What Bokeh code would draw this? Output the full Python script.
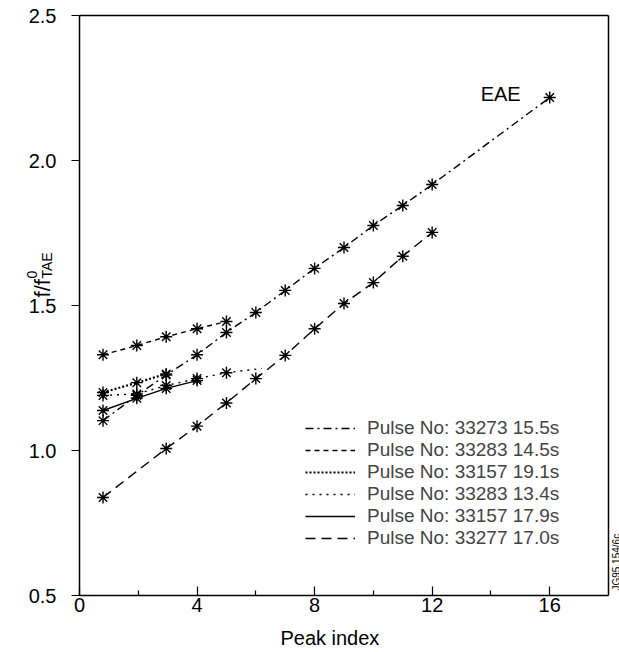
from math import pi
from bokeh.plotting import figure
from bokeh.models import (FixedTicker, PrintfTickFormatter, Label, Legend,
                          LegendItem, Range1d, LinearAxis)
from bokeh.embed import file_html
from bokeh.resources import INLINE

# ---- data ----
x_33273_155 = [0.8, 1.95, 2.95, 4, 5, 6, 7, 8, 9, 10, 11, 12, 16]
y_33273_155 = [1.103, 1.19, 1.26, 1.33, 1.407, 1.476, 1.552, 1.628, 1.70,
               1.776, 1.845, 1.917, 2.217]
x_33283_145 = [0.8, 1.95, 2.95, 4, 5]
y_33283_145 = [1.33, 1.362, 1.392, 1.42, 1.445]
x_33157_191 = [0.8, 1.95, 2.95]
y_33157_191 = [1.20, 1.234, 1.264]
x_33283_134 = [0.8, 1.95, 2.95, 4, 5, 6.2]
y_33283_134 = [1.19, 1.195, 1.224, 1.248, 1.268, 1.283]
x_33157_179 = [0.8, 1.95, 2.95, 4]
y_33157_179 = [1.138, 1.18, 1.214, 1.241]
x_33277_170 = [0.8, 2.95, 4, 5, 6, 7, 8, 9, 10, 11, 12]
y_33277_170 = [0.838, 1.007, 1.084, 1.164, 1.248, 1.328, 1.42, 1.507, 1.579,
               1.67, 1.752]

labels = ["Pulse No: 33273 15.5s", "Pulse No: 33283 14.5s",
          "Pulse No: 33157 19.1s", "Pulse No: 33283 13.4s",
          "Pulse No: 33157 17.9s", "Pulse No: 33277 17.0s"]
x_ticks = [0, 4, 8, 12, 16]
x_minor = [2, 6, 10, 14]
y_ticks = [0.5, 1.0, 1.5, 2.0, 2.5]
x_lim = (0, 18)
y_lim = (0.5, 2.5)

FONT = "Liberation Sans"

# layout in pixels: data box spans x 79..608, y 15..595 of a 619x652 canvas
W, H = 619, 652
L, R, T, B = 79, 608, 15, 595
sx = (R - L) / (x_lim[1] - x_lim[0])
sy = (B - T) / (y_lim[1] - y_lim[0])
xr = Range1d(x_lim[0] - L / sx, x_lim[1] + (W - R) / sx)
yr = Range1d(y_lim[0] - (H - B) / sy, y_lim[1] + T / sy)

p = figure(width=W, height=H, output_backend="svg", toolbar_location=None,
           x_range=xr, y_range=yr, x_axis_type=None, y_axis_type=None,
           min_border=0)
p.outline_line_color = None


def style_axis(ax):
    ax.axis_line_width = 1.5
    ax.axis_line_color = "black"
    ax.major_tick_line_color = "black"
    ax.minor_tick_line_color = "black"
    ax.major_tick_line_width = 1.2
    ax.minor_tick_line_width = 1.2
    ax.major_label_text_font = FONT
    ax.major_label_text_font_size = "20px"
    ax.major_label_text_color = "black"
    return ax


yax = style_axis(LinearAxis(fixed_location=x_lim[0], bounds=y_lim,
                            ticker=FixedTicker(ticks=y_ticks),
                            formatter=PrintfTickFormatter(format="%.1f")))
yax.major_tick_in = 0
yax.major_tick_out = 8
yax.minor_tick_in = 0
yax.minor_tick_out = 0
yax.major_label_standoff = 15
p.add_layout(yax, "left")

xax = style_axis(LinearAxis(fixed_location=y_lim[0], bounds=x_lim,
                            ticker=FixedTicker(ticks=x_ticks,
                                               minor_ticks=x_minor)))
xax.major_tick_in = 9
xax.major_tick_out = 0
xax.minor_tick_in = 5
xax.minor_tick_out = 0
xax.major_label_standoff = 2
p.add_layout(xax, "below")

# plain frame lines on top and right
top = style_axis(LinearAxis(fixed_location=y_lim[1], bounds=x_lim,
                            ticker=FixedTicker(ticks=[])))
top.major_label_text_font_size = "0px"
p.add_layout(top, "above")
right = style_axis(LinearAxis(fixed_location=x_lim[1], bounds=y_lim,
                              ticker=FixedTicker(ticks=[])))
right.major_label_text_font_size = "0px"
p.add_layout(right, "right")

LW = 1.4
styles = [
    (x_33273_155, y_33273_155, "8 4 2 4", LW),
    (x_33283_145, y_33283_145, "5 4", LW),
    (x_33157_191, y_33157_191, "2 2", 2.2),
    (x_33283_134, y_33283_134, "2 5", LW),
    (x_33157_179, y_33157_179, "solid", LW),
    (x_33277_170, y_33277_170, "10 6", LW),
]
items = []
for (xs, ys, dash, lw), lab in zip(styles, labels):
    r = p.line(xs, ys, line_color="black", line_width=lw, line_dash=dash)
    n = 5 if lab == "Pulse No: 33283 13.4s" else len(xs)
    p.scatter(xs[:n], ys[:n], marker="asterisk", size=12, line_color="black",
              line_width=1.4)
    items.append(LegendItem(label=lab, renderers=[r]))

legend = Legend(items=items, location=(305, 103), padding=0, margin=0,
                spacing=0, glyph_width=50, glyph_height=20, label_height=20,
                label_standoff=12, label_text_font=FONT,
                label_text_font_size="19px", border_line_color=None,
                background_fill_alpha=0)
p.add_layout(legend)

txt = dict(text_font=FONT, text_color="black")
p.add_layout(Label(x=13.65, y=2.19, text="EAE", text_font_size="20px", **txt))
p.add_layout(Label(x=8.52, y=0.355, text="Peak index", text_align="center",
                   text_baseline="middle", text_font_size="20px", **txt))

# y-axis title f/f^0_TAE
rot = dict(angle=pi / 2, text_baseline="alphabetic", **txt)
p.add_layout(Label(x=-1.26, y=1.528, text="f/f", text_font_size="22px", **rot))
p.add_layout(Label(x=-1.60, y=1.593, text="0", text_font_size="14px", **rot))
p.add_layout(Label(x=-1.09, y=1.593, text="TAE", text_font_size="14px", **rot))

# figure id at the right edge
p.add_layout(Label(x=18.27, y=0.517, text="JG95.154/6c", text_font_size="10px",
                   **rot))

open("out.html", "w").write(file_html(p, INLINE))
